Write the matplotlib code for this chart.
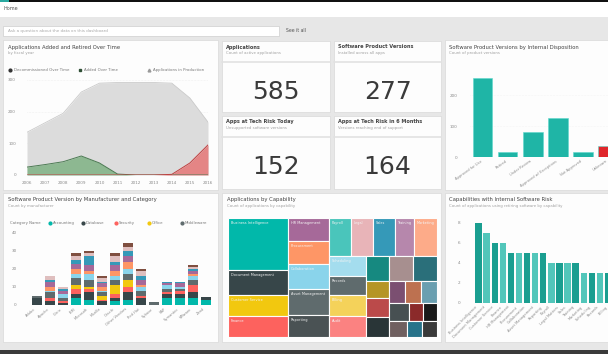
import numpy as np
import matplotlib
matplotlib.use("Agg")
import matplotlib.pyplot as plt
from matplotlib.patches import Rectangle

W, H = 608, 354

# ---- data: applications added / retired over time ----
years = ['2006', '2007', '2008', '2009', '2010', '2011', '2012', '2013', '2014', '2015', '2016']
apps_total = [135, 165, 195, 262, 290, 292, 292, 292, 290, 243, 167]
apps_added = [25, 33, 42, 60, 38, 3, 0, 0, 0, 0, 0]
apps_retired = [0, 0, 0, 0, 0, 0, 0, 0, 2, 38, 95]

# ---- KPI cards ----
kpi_titles = ['Applications', 'Software Product Versions',
              'Apps at Tech Risk Today', 'Apps at Tech Risk in 6 Months']
kpi_subtitles = ['Count of active applications', 'Installed across all apps',
                 'Unsupported software versions', 'Versions reaching end of support']
kpi_values = ['585', '277', '152', '164']

# ---- versions by internal disposition ----
disposition = ['Approved for Use', 'Retired', 'Under Review',
               'Approved w/ Exceptions', 'Not Approved', 'Unknown']
disposition_counts = [255, 16, 80, 125, 16, 35]

# ---- product versions by manufacturer and category ----
manufacturers = ['Adobe', 'Apache', 'Citrix', 'IBM', 'Microsoft', 'Mozilla', 'Oracle',
                 'Other Vendors', 'Red Hat', 'Sybase', 'SAP', 'Symantec', 'VMware', 'Zend']
category_names = ['Accounting', 'Database', 'Security', 'Office', 'Middleware', 'Web',
                  'Analytics', 'Collaboration', 'Development', 'Infrastructure', 'Other']
category_values = [
    [0, 0, 0, 4, 3, 0, 2, 3, 0, 0, 4, 4, 4, 3],
    [4, 2, 1, 2, 4, 2, 2, 4, 4, 0, 2, 2, 3, 1.5],
    [0, 2, 1, 3, 2, 1, 2, 3, 1, 0, 1, 2, 4, 0],
    [0, 0, 0, 2, 1, 2, 5, 4, 0, 0, 0, 0, 0, 0],
    [1, 3, 2, 4, 4, 2, 3, 3, 3, 1.5, 2, 1, 3, 0],
    [0, 1, 2, 2, 3, 1, 2, 3, 2, 0, 2, 1, 2, 0],
    [0, 2, 0, 3, 2, 2, 3, 4, 1, 0, 0, 0, 1, 0],
    [0, 3, 2, 3, 3, 2, 3, 3, 3, 0, 1, 2, 2, 0],
    [0, 1, 1, 2, 5, 1, 2, 3, 2, 0, 1, 1, 1, 0],
    [0, 2, 1, 2, 2, 2, 3, 2.5, 3, 0, 0, 0, 1, 0],
    [0, 0, 0, 2, 1, 1, 2, 2, 1, 0, 0, 0, 1, 0],
]
category_colors = ['#01B8AA', '#374649', '#FD625E', '#F2C80F', '#5F6B6D', '#8AD4EB',
                   '#FE9666', '#A66999', '#3599B8', '#DFBFBF', '#7F4F40']
legend_names = ['Accounting', 'Database', 'Security', 'Office', 'Middleware']

# ---- applications by capability (treemap, nested groups) ----
treemap = [
    [('Business Intelligence', 3120, '#01B8AA'), ('Document Management', 1500, '#374649'),
     ('Customer Service', 1260, '#F2C80F'), ('Finance', 1260, '#FD625E')],
    [('HR Management', 943, '#A66999'), ('Procurement', 943, '#FE9666'),
     ('Collaboration', 1025, '#8AD4EB'), ('Asset Management', 1066, '#5F6B6D'),
     ('Reporting', 902, '#4A5254')],
    [
        [('Payroll', 836, '#4AC5BB'), ('Legal', 836, '#E8B4B8'), ('Sales', 836, '#3599B8'),
         ('Training', 722, '#B687AC'), ('Marketing', 874, '#FDAB89')],
        [
            [('Scheduling', 740, '#A4DDEE'), ('Records', 703, '#5F6B6D'),
             ('Billing', 777, '#F4D25A'), ('Audit', 777, '#FB8281')],
            [
                [('Security', 575, '#168980'), ('Inventory', 600, '#A78F8F'),
                 ('Email', 600, '#2A6F7A')],
                [
                    [('Portal', 391, '#B59525'), ('Tax', 437, '#BB4A4A'),
                     ('CRM', 460, '#293537')],
                    [
                        [('a', 352, '#7B4F71'), ('b', 352, '#BD7150'), ('c', 352, '#6A9FB0')],
                        [('d', 360, '#475052'), ('e', 252, '#8B2A2A'), ('f', 252, '#1A1A1A')],
                        [('g', 288, '#706060'), ('h', 240, '#28738A'), ('i', 240, '#3A3A3A')],
                    ],
                ],
            ],
        ],
    ],
]

# ---- capabilities with internal software risk ----
capabilities = ['Business Intelligence', 'Document Management', 'Customer Service',
                'Finance', 'HR Management', 'Procurement', 'Collaboration',
                'Asset Management', 'Reporting', 'Payroll', 'Legal Matters', 'Sales',
                'Training', 'Marketing', 'Scheduling', 'Records', 'Billing']
capability_risk = [8, 7, 6, 6, 5, 5, 5, 5, 5, 4, 4, 4, 4, 3, 3, 3, 3]

TITLE_C = '#444444'
SUB_C = '#a0a0a0'
TICK_C = '#8a8a8a'


def px_axes(x, y, w, h):
    ax = fig.add_axes([x / W, 1 - (y + h) / H, w / W, h / H])
    ax.set_facecolor('none')
    return ax


def clean(ax):
    for s in ax.spines.values():
        s.set_visible(False)
    ax.tick_params(length=0, labelsize=3, labelcolor=TICK_C, pad=1.5)


def node_sum(node):
    if isinstance(node, tuple):
        return node[1]
    return sum(node_sum(c) for c in node)


def layout(node, x, y, w, h, horiz, out):
    if isinstance(node, tuple):
        out.append((x, y, w, h, node))
        return
    total = node_sum(node)
    for c in node:
        f = node_sum(c) / total
        if horiz:
            layout(c, x, y, w * f, h, not horiz, out)
            x += w * f
        else:
            layout(c, x, y, w, h * f, not horiz, out)
            y += h * f


fig = plt.figure(figsize=(W / 100, H / 100), dpi=100)
fig.patch.set_facecolor('#e7e7e7')

bg = fig.add_axes([0, 0, 1, 1])
bg.set_xlim(0, W)
bg.set_ylim(H, 0)
bg.axis('off')

# header
bg.add_patch(Rectangle((0, 0), W, 17, color='#ffffff', lw=0))
bg.add_patch(Rectangle((0, 0), W, 1.6, color='#111111', lw=0))
bg.add_patch(Rectangle((0, 0), 9, 1.6, color='#2aa9a0', lw=0))
bg.text(4, 8, 'Home', fontsize=3.5, color='#555555', va='center')
bg.add_patch(Rectangle((3, 26), 276, 10, facecolor='#ffffff', edgecolor='#cfcfcf', lw=0.5))
bg.text(8, 31, 'Ask a question about the data on this dashboard', fontsize=3,
        color='#aaaaaa', va='center')
bg.text(286, 31, 'See it all', fontsize=3.3, color='#555555', va='center')

# footer
bg.add_patch(Rectangle((0, 350), W, 4, color='#3a3a3a', lw=0))

panels = [(3, 40, 215, 150), (445, 40, 170, 150),
          (3, 193, 215, 149), (222, 193, 219, 149), (445, 193, 170, 149)]
for (x, y, w, h) in panels:
    bg.add_patch(Rectangle((x, y), w, h, facecolor='#fdfdfd', edgecolor='#d9d9d9', lw=0.5))

# KPI cards
kpi_boxes = [(222, 41, 108, 71), (334, 41, 107, 71), (222, 116, 108, 73), (334, 116, 107, 73)]
for (x, y, w, h), t, st, v in zip(kpi_boxes, kpi_titles, kpi_subtitles, kpi_values):
    bg.add_patch(Rectangle((x, y), w, h, facecolor='#fdfdfd', edgecolor='#d9d9d9', lw=0.5))
    bg.plot([x, x + w], [y + 21, y + 21], color='#e2e2e2', lw=1.2)
    bg.text(x + 4, y + 6, t, fontsize=3.6, color=TITLE_C, va='center', weight='bold')
    bg.text(x + 4, y + 12, st, fontsize=2.8, color=SUB_C, va='center')
    bg.text(x + w / 2, y + 51, v, fontsize=18, color='#3a3a3a', ha='center', va='center',
            family=['Liberation Sans Narrow', 'DejaVu Sans'])

# panel titles
titles = [(8, 47, 'Applications Added and Retired Over Time', 'by fiscal year'),
          (449, 47, 'Software Product Versions by Internal Disposition',
           'Count of product versions'),
          (8, 200, 'Software Product Version by Manufacturer and Category',
           'Count by manufacturer'),
          (227, 200, 'Applications by Capability', 'Count of applications by capability'),
          (449, 200, 'Capabilities with Internal Software Risk',
           'Count of applications using retiring software by capability')]
for x, y, t, st in titles:
    bg.text(x, y, t, fontsize=3.8, color=TITLE_C, va='center')
    bg.text(x, y + 6, st, fontsize=2.8, color=SUB_C, va='center')

# area chart legend
leg = [(10, 'o', '#333333', 'Decommissioned Over Time'),
       (80, 's', '#2f4f35', 'Added Over Time'),
       (149, '^', '#999999', 'Applications in Production')]
for x, m, c, lab in leg:
    bg.plot(x, 70, m, ms=2, color=c)
    bg.text(x + 4, 70, lab, fontsize=2.8, color='#777777', va='center')

# ---- area chart ----
ax1 = px_axes(27, 80, 181, 95)
clean(ax1)
xs = np.arange(len(years))
ax1.fill_between(xs, apps_total, color='#dcdcdc', lw=0)
ax1.plot(xs, apps_total, color='#cacaca', lw=0.6)
ax1.fill_between(xs, apps_added, color='#8db891', lw=0)
ax1.plot(xs, apps_added, color='#4b7a52', lw=0.7)
ax1.fill_between(xs, apps_retired, color='#e48585', lw=0)
ax1.plot(xs, apps_retired, color='#c04040', lw=0.7)
ax1.set_xlim(0, 10)
ax1.set_ylim(0, 300)
ax1.set_xticks(xs)
ax1.set_xticklabels(years)
ax1.set_yticks([0, 100, 200, 300])
ax1.tick_params(axis='y', pad=8)
ax1.tick_params(axis='x', pad=4)
ax1.grid(axis='y', color='#e6e6e6', lw=0.4, ls=':')
ax1.set_axisbelow(True)

# ---- disposition bars ----
ax2 = px_axes(470, 65, 138, 92)
clean(ax2)
dcolors = ['#1fb5a6'] * 5 + ['#e0262b']
ax2.bar(np.arange(len(disposition)), disposition_counts, width=0.78, color=dcolors,
        edgecolor='#5ed8cc', lw=0.4)
ax2.set_xlim(-0.5, 4.85)
ax2.set_ylim(0, 297)
ax2.set_yticks([0, 100, 200])
ax2.set_xticks(np.arange(len(disposition)))
ax2.set_xticklabels(disposition, rotation=35, ha='right', fontsize=2.6)
ax2.tick_params(axis='y', pad=9)
ax2.grid(axis='y', color='#eeeeee', lw=0.4, ls=':')
ax2.set_axisbelow(True)

# ---- stacked bars ----
bg.text(10, 223, 'Category Name', fontsize=2.8, color='#777777', va='center')
for i, name in enumerate(legend_names):
    x = 50 + i * 33
    bg.plot(x, 223, 'o', ms=2, color=category_colors[i])
    bg.text(x + 3, 223, name, fontsize=2.8, color='#777777', va='center')

ax3 = px_axes(30.5, 233, 182, 72)
clean(ax3)
bottom = np.zeros(len(manufacturers))
for vals, col in zip(category_values, category_colors):
    ax3.bar(np.arange(len(manufacturers)), vals, bottom=bottom, width=0.78,
            color=col, lw=0)
    bottom += np.array(vals)
ax3.set_xlim(-0.5, 13.5)
ax3.set_ylim(0, 40)
ax3.set_yticks([0, 10, 20, 30, 40])
ax3.set_xticks(np.arange(len(manufacturers)))
ax3.set_xticklabels(manufacturers, rotation=40, ha='right', fontsize=2.6)
ax3.tick_params(axis='y', pad=10)

# ---- treemap ----
ax4 = px_axes(228, 218, 209, 119)
ax4.set_xlim(0, 1)
ax4.set_ylim(1, 0)
ax4.axis('off')
rects = []
layout(treemap, 0, 0, 1, 1, True, rects)
for x, y, w, h, (lab, val, col) in rects:
    ax4.add_patch(Rectangle((x, y), w, h, facecolor=col, edgecolor='#fdfdfd', lw=0.8))
    if val >= 700:
        ax4.text(x + 0.012, y + 0.045, lab, fontsize=2.5, color='#f4f4f4', va='center',
                 clip_on=True)

# ---- capability risk bars ----
ax5 = px_axes(474.5, 215, 133.5, 88)
clean(ax5)
ccolors = ['#1a9e90' if i % 2 == 0 else '#52c6ba' for i in range(len(capabilities))]
ax5.bar(np.arange(len(capabilities)), capability_risk, width=0.78, color=ccolors, lw=0)
ax5.set_xlim(-0.5, 15.58)
ax5.set_ylim(0, 8.8)
ax5.set_yticks([0, 2, 4, 6, 8])
ax5.set_xticks(np.arange(len(capabilities)))
ax5.set_xticklabels(capabilities, rotation=45, ha='right', fontsize=2.6)
ax5.tick_params(axis='y', pad=10)

fig.savefig('out.png', dpi=100, facecolor=fig.get_facecolor())
